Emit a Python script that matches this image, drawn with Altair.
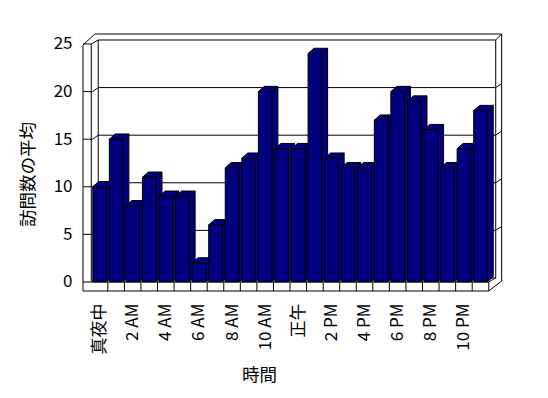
import altair as alt
import pandas as pd

# ---- data ----
HOURS = list(range(24))
VALUES = [10, 15, 8, 11, 9, 9, 2, 6, 12, 13, 20, 14, 14, 24, 13, 12, 12, 17, 20, 19, 16, 12, 14, 18]
TICK_HOURS = [0, 2, 4, 6, 8, 10, 12, 14, 16, 18, 20, 22]
TICK_LABELS = ["真夜中", "2 AM", "4 AM", "6 AM", "8 AM", "10 AM", "正午",
               "2 PM", "4 PM", "6 PM", "8 PM", "10 PM"]
Y_TICKS = [0, 5, 10, 15, 20, 25]
X_TITLE = "時間"
Y_TITLE = "訪問数の平均"

# ---- styling / pseudo-3D geometry constants ----
NAVY = "#000080"
FONT = "Noto Sans CJK JP"
HALF = 0.41      # half width of a bar front face (category units)
BDX, BDY = 0.36, 0.55   # bar depth offset (x units, value units)
WDX, WDY = 0.42, 0.42   # wall depth offset
XL0, XL1, XR1 = -1.0, -0.5, 23.5
XB0, XB1 = XL1 + WDX, XR1 + WDX
XO = 24.28
VF, VTI, VTO = -0.95, 25 + WDY, 26.05

# ---- tables built from the arrays ----
front = pd.DataFrame({"bar": HOURS,
                      "x": [h - HALF for h in HOURS],
                      "x2": [h + HALF for h in HOURS],
                      "y": [0] * 24,
                      "y2": VALUES})

side_rows, top_rows = [], []
for h, v in zip(HOURS, VALUES):
    side_rows.append({"bar": h, "x": h + HALF, "y": 0, "y2": v})
    side_rows.append({"bar": h, "x": h + HALF + BDX, "y": BDY, "y2": v + BDY})
    top_rows.append({"bar": h, "y": v, "x": h - HALF, "x2": h + HALF})
    top_rows.append({"bar": h, "y": v + BDY, "x": h - HALF + BDX, "x2": h + HALF + BDX})
side = pd.DataFrame(side_rows)
top = pd.DataFrame(top_rows)

# ---- decorative 3D frame (walls, floor, gridlines) ----
segs = [
    (XL0, VF, XL0, 24.9), (XL1, 0, XL1, 25), (XB0, WDY, XB0, VTI),
    (XL0, 24.9, -0.28, VTO), (XL1, 25, XB0, VTI),
    (-0.28, VTO, XO, VTO), (XB0, VTI, XB1, VTI),
    (XB1, WDY, XB1, VTI), (XO, 0.1, XO, VTO), (XB1, VTI, XO, VTO),
    (XL0, VF, XR1, VF), (XL1, 0, XR1, 0), (XR1, VF, XR1, 0),
    (XR1, VF, XO, 0.1), (XR1, 0, XB1, WDY), (XB0, WDY, XB1, WDY),
    (XL0, 0, XL1, 0), (XL0, 25, XL1, 25),
]
for k in range(1, 24):
    segs.append((k - 0.5, VF, k - 0.5, 0))
for v in Y_TICKS[1:-1]:
    segs.append((XL0, v, -0.42, v))
    segs.append((-0.42, v, XB0, v + WDY))
    segs.append((XB0, v + WDY, XB1, v + WDY))
    segs.append((XB1, v + WDY, XO, v + WDY + 0.42))
frame = pd.DataFrame(segs, columns=["x", "y", "x2", "y2"])

# ---- shared encodings ----
label_expr = "[" + ",".join("'%s'" % s for s in TICK_LABELS) + "][round(datum.value / 2)]"
xs = alt.Scale(domain=[-1, 24.3], nice=False, zero=False)
ys = alt.Scale(domain=[VF, VTO], nice=False, zero=False)
x_axis = alt.Axis(values=TICK_HOURS, labelExpr=label_expr, labelAngle=270,
                  labelAlign="right", labelBaseline="middle", labelPadding=12,
                  ticks=False, domain=False, grid=False, labelFlush=False,
                  labelOverlap=False, labelFont=FONT, labelFontSize=17,
                  labelColor="black", title=X_TITLE, titleFont=FONT,
                  titleFontSize=17.5, titleFontWeight="normal", titleColor="black",
                  titleX=176, titleY=84, titleAlign="center", titleBaseline="middle")
y_axis = alt.Axis(values=Y_TICKS, format="d", labelPadding=11, ticks=False,
                  domain=False, grid=False, labelOverlap=False, labelFont=FONT,
                  labelFontSize=17, labelColor="black", labelAlign="right",
                  labelBaseline="middle", title=Y_TITLE, titleFont=FONT,
                  titleFontSize=17.5, titleFontWeight="normal", titleColor="black",
                  titleAngle=270, titleX=-55, titleY=140, titleAlign="center",
                  titleBaseline="middle")
X = alt.X("x:Q", scale=xs, axis=x_axis)
Y = alt.Y("y:Q", scale=ys, axis=y_axis)

frame_layer = alt.Chart(frame).mark_rule(color="black", strokeWidth=1).encode(
    x=X, y=Y, x2="x2:Q", y2="y2:Q")

side_layer = alt.Chart(side).mark_area(fill=NAVY, stroke="black", strokeWidth=1,
                                       opacity=1, interpolate="linear").encode(
    x=X, y=Y, y2="y2:Q", detail="bar:N")

top_layer = alt.Chart(top).mark_area(orient="horizontal", fill=NAVY, stroke="black",
                                     strokeWidth=1, opacity=1,
                                     interpolate="linear").encode(
    y=Y, x=X, x2="x2:Q", detail="bar:N")

front_layer = alt.Chart(front).mark_rect(fill=NAVY, stroke="black", strokeWidth=1,
                                         opacity=1).encode(
    x=X, x2="x2:Q", y=Y, y2="y2:Q")

chart = alt.layer(frame_layer, side_layer, top_layer, front_layer).properties(
    width=419, height=257,
    padding={"left": 75, "top": 26, "right": 30, "bottom": 95},
    autosize=alt.AutoSizeParams(type="none"),
    background="white",
).configure_view(stroke="transparent")

chart.save("out.html", embed_options={"renderer": "svg", "actions": False})
